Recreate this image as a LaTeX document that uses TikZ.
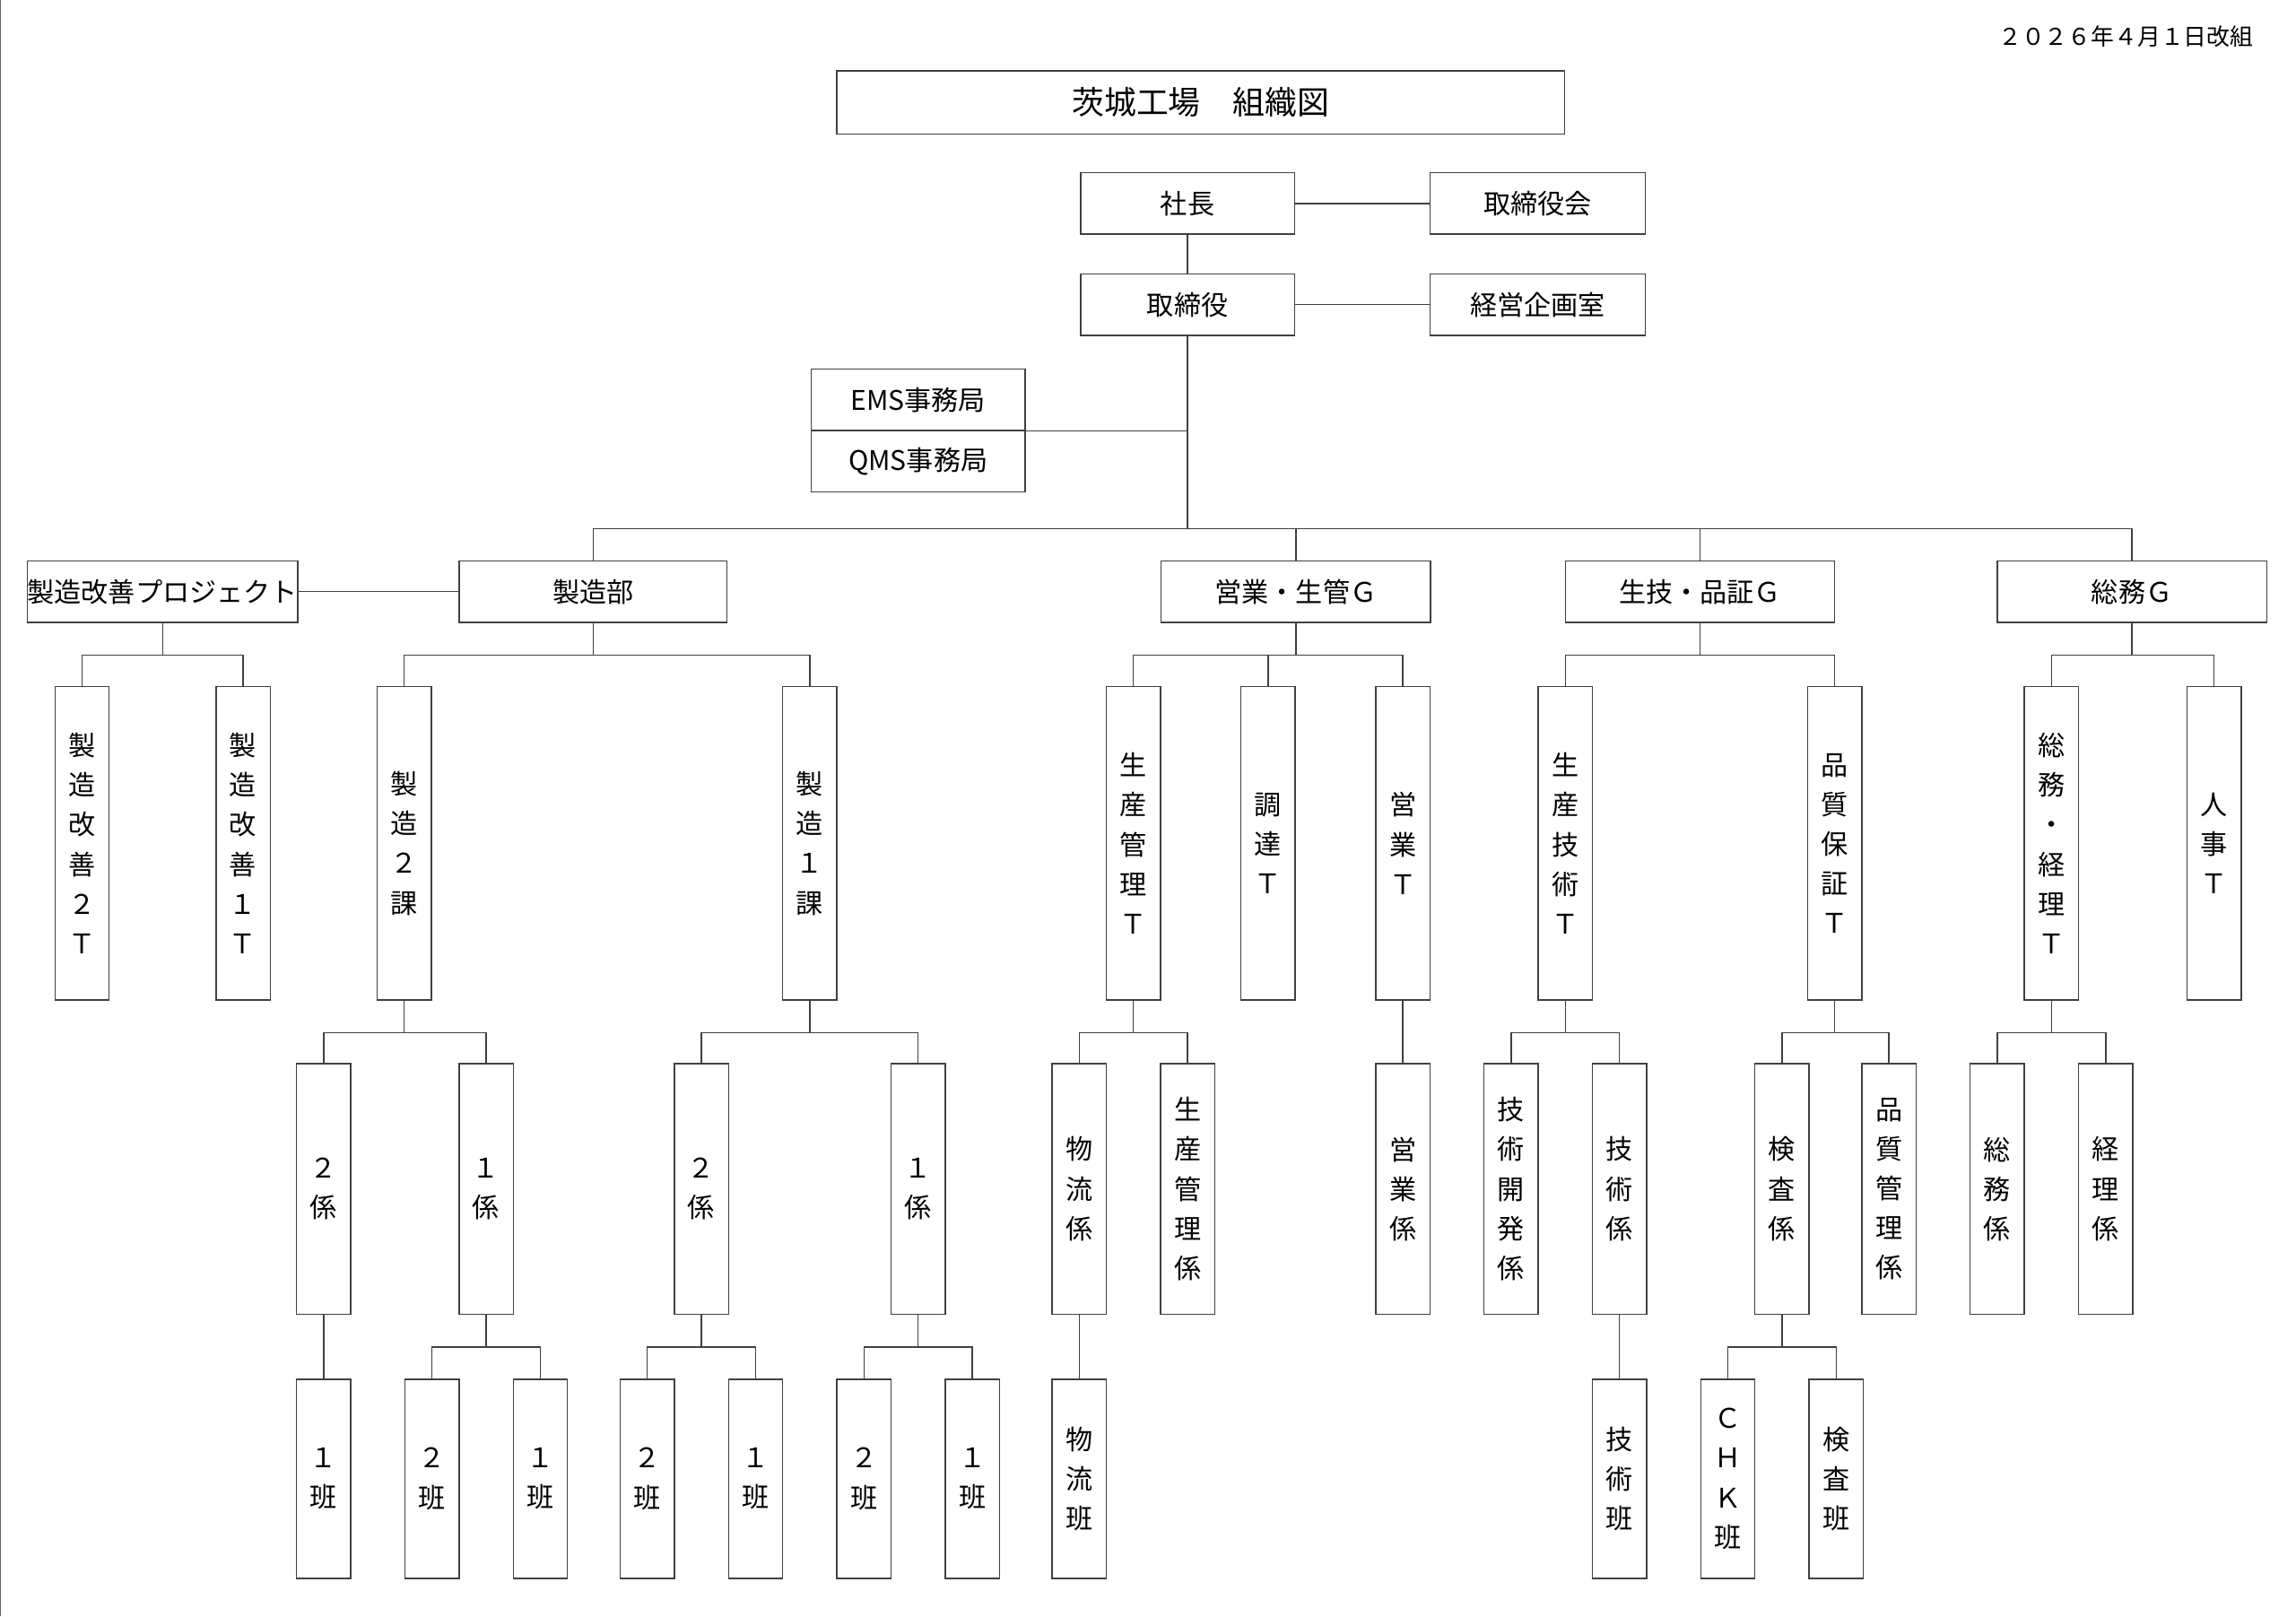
\documentclass[tikz,border=0pt]{standalone}
\usepackage{fontspec}
\setmainfont{Noto Sans CJK JP}
\tikzset{
	box/.style={draw=black!75, line width=0.5pt, minimum height=0.84cm, inner sep=0pt, font=\fontsize{10.5}{12}\selectfont},
	vbox/.style={draw=black!75, line width=0.5pt, minimum width=0.74cm, inner sep=0pt, align=center, font=\fontsize{10.5}{15.4}\selectfont},
	link/.style={draw=black!75, line width=0.5pt}
}
\begin{document}
\begin{tikzpicture}[x=0.02cm,y=-0.02cm]
		\useasboundingbox (0,0) rectangle (1568,1104);
		\draw[black!60] (0,0) -- (0,1104);
		% header
		\node[anchor=east, font=\fontsize{9}{10}\selectfont] (date) at (1545,25) {２０２６年４月１日改組};
		\node[box, minimum width=9.94cm, minimum height=0.86cm, font=\fontsize{12.5}{14}\selectfont] (title) at (820,70) {茨城工場\quad 組織図};

		% top
		\node[box, minimum width=2.92cm] (pres) at (811,139) {社長};
		\node[box, minimum width=2.94cm] (board) at (1050,139) {取締役会};
		\node[box, minimum width=2.92cm] (dir) at (811,208) {取締役};
		\node[box, minimum width=2.94cm] (plan) at (1050,208) {経営企画室};
		\node[box, minimum width=2.92cm] (ems) at (627,273) {EMS事務局};
		\node[box, minimum width=2.92cm] (qms) at (627,315) {QMS事務局};
		\draw[link] (pres) -- (board);
		\draw[link] (dir) -- (plan);
		\draw[link] (pres) -- (dir);
		\draw[link] (ems.south east) -- (ems.south east -| dir);

		% departments
		\node[box, minimum width=3.68cm] (proj) at (111,404) {製造改善プロジェクト};
		\node[box, minimum width=3.66cm] (mfg) at (405,404) {製造部};
		\node[box, minimum width=3.68cm] (sales) at (885,404) {営業・生管Ｇ};
		\node[box, minimum width=3.68cm] (tech) at (1161,404) {生技・品証Ｇ};
		\node[box, minimum width=3.68cm] (admin) at (1456,404) {総務Ｇ};
		\coordinate (bus) at (811,361);
		\draw[link] (dir) -- (bus);
		\foreach \d in {mfg,sales,tech,admin}
			\draw[link] (bus) -| (\d.north);
		\draw[link] (proj) -- (mfg);

		% level 2
		\foreach \n/\x/\t in {k2/56/{製\\造\\改\\善\\２\\Ｔ}, k1/166/{製\\造\\改\\善\\１\\Ｔ},
				s2/276/{製\\造\\２\\課}, s1/553/{製\\造\\１\\課},
				pm/774/{生\\産\\管\\理\\Ｔ}, buy/866/{調\\達\\Ｔ}, eig/958/{営\\業\\Ｔ},
				pe/1069/{生\\産\\技\\術\\Ｔ}, qa/1253/{品\\質\\保\\証\\Ｔ},
				ga/1401/{総\\務\\・\\経\\理\\Ｔ}, hr/1512/{人\\事\\Ｔ}}
			\node[vbox, minimum height=4.28cm] (\n) at (\x,576) {\t};
		\foreach \p/\c in {proj/k2,proj/k1,mfg/s2,mfg/s1,sales/pm,sales/buy,sales/eig,tech/pe,tech/qa,admin/ga,admin/hr}
			\draw[link] (\p.south) -- ++(0,22) -| (\c.north);

		% level 3
		\foreach \n/\x/\t in {s2b/221/{２\\係}, s2a/332/{１\\係}, s1b/479/{２\\係}, s1a/627/{１\\係},
				log/737/{物\\流\\係}, pmk/811/{生\\産\\管\\理\\係}, eik/958/{営\\業\\係},
				dev/1032/{技\\術\\開\\発\\係}, tk/1106/{技\\術\\係},
				ins/1217/{検\\査\\係}, qc/1290/{品\\質\\管\\理\\係},
				gak/1364/{総\\務\\係}, acc/1438/{経\\理\\係}}
			\node[vbox, minimum height=3.42cm] (\n) at (\x,812) {\t};
		\foreach \p/\c in {s2/s2b,s2/s2a,s1/s1b,s1/s1a,pm/log,pm/pmk,eig/eik,pe/dev,pe/tk,qa/ins,qa/qc,ga/gak,ga/acc}
			\draw[link] (\p.south) -- ++(0,22) -| (\c.north);

		% level 4
		\foreach \n/\x/\t in {a1/221/{１\\班}, b2/295/{２\\班}, b1/369/{１\\班},
				c2/442/{２\\班}, c1/516/{１\\班}, d2/590/{２\\班}, d1/664/{１\\班},
				logh/737/{物\\流\\班}, tkh/1106/{技\\術\\班},
				chk/1180/{Ｃ\\Ｈ\\Ｋ\\班}, insh/1254/{検\\査\\班}}
			\node[vbox, minimum height=2.72cm] (\n) at (\x,1010) {\t};
		\foreach \p/\c in {s2b/a1,s2a/b2,s2a/b1,s1b/c2,s1b/c1,s1a/d2,s1a/d1,log/logh,tk/tkh,ins/chk,ins/insh}
			\draw[link] (\p.south) -- ++(0,22) -| (\c.north);
\end{tikzpicture}
\end{document}
